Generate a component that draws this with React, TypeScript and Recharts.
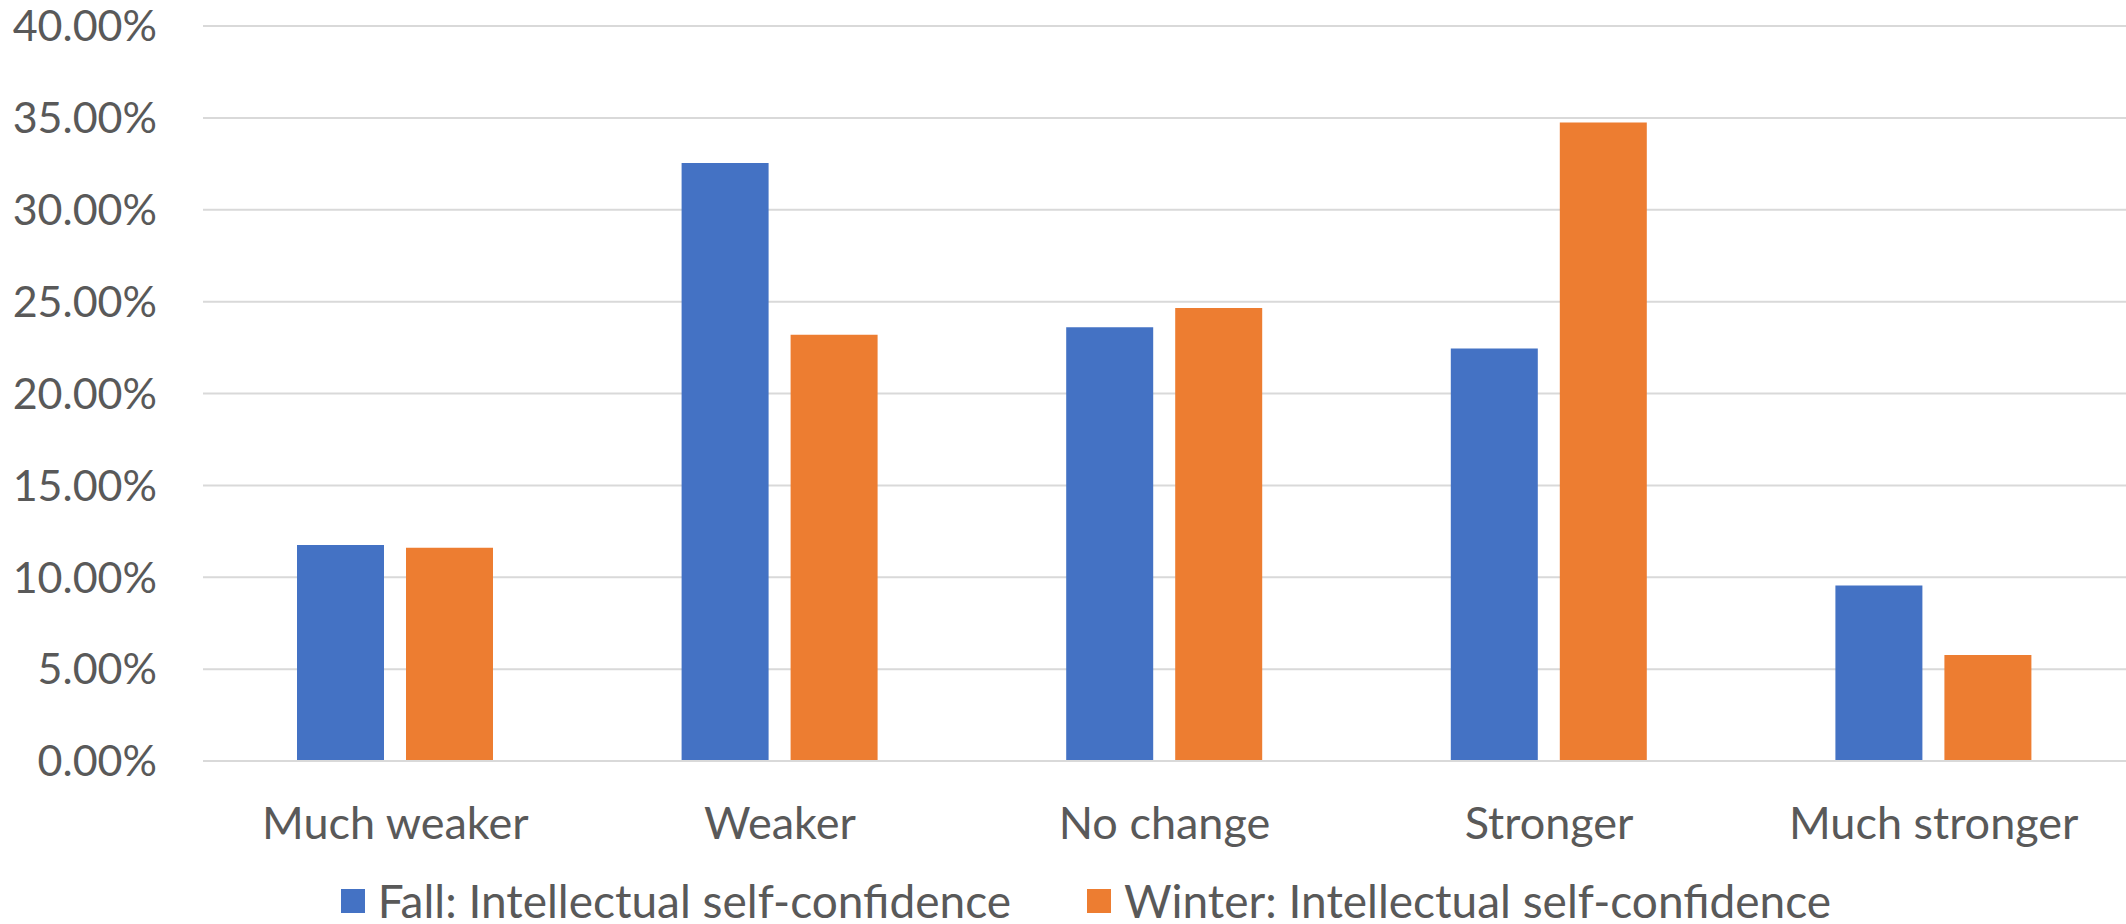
import React from "react";
import { BarChart, Bar, XAxis, YAxis, CartesianGrid, Legend } from "recharts";

// Change in intellectual self-confidence, share of respondents (%)
const categories = ["Much weaker", "Weaker", "No change", "Stronger", "Much stronger"];
const fallValues = [11.75, 32.55, 23.6, 22.45, 9.55];
const winterValues = [11.6, 23.2, 24.65, 34.75, 5.77];
const yTicks = [0, 5, 10, 15, 20, 25, 30, 35, 40];

const FALL_NAME = "Fall: Intellectual self-confidence";
const WINTER_NAME = "Winter: Intellectual self-confidence";
const FALL_COLOR = "#4472C4";
const WINTER_COLOR = "#ED7D31";
const TEXT_COLOR = "#595959";
const GRID_COLOR = "#d9d9d9";
const FONT = "Lato, 'Open Sans', sans-serif";

const data = categories.map((name, i) => ({
  name,
  fall: fallValues[i],
  winter: winterValues[i],
}));

const legendItems = [
  { label: FALL_NAME, color: FALL_COLOR },
  { label: WINTER_NAME, color: WINTER_COLOR },
];

const LegendContent = () => (
  <div
    style={{
      display: "flex",
      justifyContent: "center",
      alignItems: "center",
      height: 70,
      paddingTop: 24,
      paddingLeft: 46,
      boxSizing: "border-box",
      fontFamily: FONT,
      fontSize: 46,
      lineHeight: "46px",
      color: TEXT_COLOR,
      gap: 76,
      overflow: "visible",
    }}
  >
    {legendItems.map((it) => (
      <div key={it.label} style={{ display: "flex", alignItems: "center" }}>
        <span
          style={{
            display: "inline-block",
            width: 24,
            height: 24,
            background: it.color,
            marginRight: 13,
          }}
        />
        <span style={{ whiteSpace: "nowrap" }}>{it.label}</span>
      </div>
    ))}
  </div>
);

export default function App() {
  return (
    <div style={{ position: "absolute", left: 0, top: 0, background: "#fff" }}>
      <BarChart
        width={2126}
        height={924}
        data={data}
        margin={{ top: 26, right: 0, bottom: 0, left: 0 }}
        barGap={22}
        barSize={87}
      >
        <CartesianGrid vertical={false} stroke={GRID_COLOR} strokeWidth={2} />
        <XAxis
          dataKey="name"
          height={93}
          tickLine={false}
          tickSize={0}
          tickMargin={46}
          axisLine={{ stroke: GRID_COLOR, strokeWidth: 2 }}
          tick={{ fill: TEXT_COLOR, fontSize: 45, fontFamily: FONT }}
          interval={0}
        />
        <YAxis
          width={203}
          domain={[0, 40]}
          ticks={yTicks}
          interval={0}
          axisLine={false}
          tickLine={false}
          tickSize={0}
          tickMargin={46}
          tickFormatter={(v: number) => `${v.toFixed(2)}%`}
          tick={{ fill: TEXT_COLOR, fontSize: 43, fontFamily: FONT }}
        />
        <Legend
          verticalAlign="bottom"
          height={70}
          wrapperStyle={{ left: 0, width: 2126 }}
          content={() => <LegendContent />}
        />
        <Bar dataKey="fall" name={FALL_NAME} fill={FALL_COLOR} isAnimationActive={false} />
        <Bar dataKey="winter" name={WINTER_NAME} fill={WINTER_COLOR} isAnimationActive={false} />
      </BarChart>
    </div>
  );
}
